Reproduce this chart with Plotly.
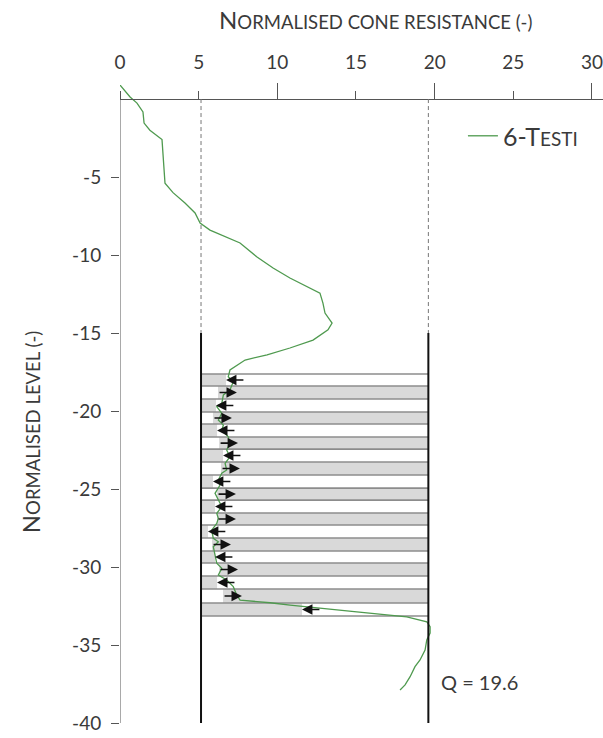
import plotly.graph_objects as go

# ---------------- data ----------------
cone_q = [0.0, 0.64, 1.08, 1.46, 1.53, 1.90, 2.67, 2.73, 2.80, 2.86, 3.37, 4.13, 4.77, 5.09,
          5.72, 7.63, 8.71, 9.73, 10.80, 11.89, 12.71, 12.90, 13.03, 13.48, 13.22, 12.27,
          10.80, 9.35, 7.95, 6.99, 6.88, 7.20, 6.99, 6.57, 6.47, 6.15, 6.47, 6.25, 6.57,
          6.47, 6.88, 6.99, 6.78, 6.99, 6.68, 6.78, 6.47, 6.25, 6.36, 6.04, 6.25, 6.47,
          6.15, 6.25, 6.15, 5.83, 5.93, 6.25, 5.93, 6.04, 6.15, 6.47, 6.25, 6.78, 7.20,
          7.42, 7.63, 9.54, 10.81, 15.05, 18.23, 19.50, 19.71, 19.71, 19.50, 19.39, 19.07,
          18.75, 18.44, 18.12, 17.80]
level = [0.90, 0.13, -0.26, -0.83, -1.54, -2.00, -2.60, -3.70, -4.74, -5.40, -6.00, -6.67,
         -7.30, -7.95, -8.40, -9.23, -10.13, -10.83, -11.47, -12.05, -12.44, -13.08, -13.72,
         -14.36, -14.80, -15.45, -15.96, -16.40, -16.73, -17.37, -17.80, -18.12, -18.65,
         -18.97, -19.51, -19.72, -20.15, -20.58, -20.90, -21.22, -21.65, -22.07, -22.50,
         -22.93, -23.35, -23.78, -23.99, -24.42, -24.74, -25.28, -25.71, -26.13, -26.56,
         -26.88, -27.20, -27.63, -28.16, -28.38, -28.70, -29.34, -29.76, -30.08, -30.51,
         -30.83, -31.26, -31.79, -32.12, -32.29, -32.44, -32.87, -33.19, -33.51, -33.83,
         -34.23, -34.68, -35.32, -35.96, -36.39, -37.03, -37.56, -37.88]

strip_edges = [-17.63, -18.40, -19.23, -20.06, -20.83, -21.67, -22.44, -23.27, -24.10,
               -24.94, -25.71, -26.54, -27.31, -28.14, -28.97, -29.74, -30.58, -31.41,
               -32.31, -33.14]
strip_split = [6.74, 6.23, 6.10, 5.91, 6.17, 6.30, 6.55, 6.42, 5.91, 6.17, 6.04, 6.17,
               5.59, 5.85, 6.04, 6.30, 6.17, 6.55, 11.57]
arrow_len = 1.2

x_ticks = [0, 5, 10, 15, 20, 25, 30]
x_major = [10, 20, 30]
y_ticks = [-5, -10, -15, -20, -25, -30, -35, -40]
y_ticktext = ["-5", "-10", "-15", "-20", "-25", "-30", "-35", "-40"]

left_bound = 5.15
right_bound = 19.6
dash_top = 0
wall_top = -15
wall_bottom = -40
q_text = "Q = 19.6"
series_name = "6-T<span style='font-size:19px'>ESTI</span>"
x_title = "N<span style='font-size:18.5px'>ORMALISED CONE RESISTANCE (-)</span>"
y_title = "N<span style='font-size:18.5px'>ORMALISED LEVEL (-)</span>"

X_RANGE = [0, 30.7]
Y_RANGE = [-40, 0.9]

# ---------------- figure ----------------
FONT = "Lato"
TXT = "#3a3a3a"
AX = "#555555"
fig = go.Figure()

shapes = []
for i in range(len(strip_split)):
    top, bot, s = strip_edges[i], strip_edges[i + 1], strip_split[i]
    if i % 2 == 0:
        gx0, gx1 = left_bound, s
    else:
        gx0, gx1 = s, right_bound
    shapes.append(dict(type="rect", xref="x", yref="y", x0=gx0, x1=gx1, y0=bot, y1=top,
                       fillcolor="#d9d9d9", line=dict(width=0), layer="below"))
for e in strip_edges:
    shapes.append(dict(type="line", xref="x", yref="y", x0=left_bound, x1=right_bound,
                       y0=e, y1=e, line=dict(color="#8c8c8c", width=1.6), layer="below"))
for xb in (left_bound, right_bound):
    shapes.append(dict(type="line", xref="x", yref="y", x0=xb, x1=xb, y0=dash_top, y1=wall_top,
                       line=dict(color="#777777", width=1, dash="4px,3px")))
    shapes.append(dict(type="line", xref="x", yref="y", x0=xb, x1=xb, y0=wall_top, y1=wall_bottom,
                       line=dict(color="#111111", width=2)))
# left y axis line (from level 0 down)
shapes.append(dict(type="line", xref="x", yref="y", x0=0, x1=0, y0=0, y1=wall_bottom,
                   line=dict(color=AX, width=1)))

fig.add_trace(go.Scatter(x=cone_q, y=level, mode="lines", name=series_name,
                         line=dict(color="#4f9a4f", width=1.3), hoverinfo="skip"))
fig.add_trace(go.Scatter(x=[0], y=[-100], xaxis="x2", mode="lines", showlegend=False,
                         hoverinfo="skip"))

annotations = []
for i, s in enumerate(strip_split):
    yc = (strip_edges[i] + strip_edges[i + 1]) / 2
    if i % 2 == 0:
        head, tail = s, s + arrow_len
    else:
        head, tail = s + arrow_len, s
    annotations.append(dict(x=head, y=yc, ax=tail, ay=yc, xref="x", yref="y", axref="x",
                            ayref="y", text="", showarrow=True, arrowhead=2, arrowsize=1.3,
                            arrowwidth=1.6, arrowcolor="#111111", standoff=0))

annotations.append(dict(text=x_title, xref="paper", yref="paper", x=0.528, y=1.102,
                        xanchor="center", yanchor="middle", showarrow=False,
                        font=dict(family=FONT, size=24, color=TXT)))
annotations.append(dict(text=y_title, xref="paper", yref="paper", x=-0.186, y=0.456,
                        xanchor="center", yanchor="middle", textangle=-90, showarrow=False,
                        font=dict(family=FONT, size=24, color=TXT)))
annotations.append(dict(text=q_text, xref="x", yref="y", x=20.3, y=-37.4, xanchor="left",
                        yanchor="middle", showarrow=False,
                        font=dict(family=FONT, size=20, color=TXT)))

pos0 = (0 - Y_RANGE[0]) / (Y_RANGE[1] - Y_RANGE[0])

fig.update_layout(
    width=603, height=738,
    margin=dict(l=120, r=0, t=85, b=15),
    paper_bgcolor="white", plot_bgcolor="white",
    font=dict(family=FONT, color=TXT),
    shapes=shapes, annotations=annotations,
    showlegend=True,
    legend=dict(x=0.71, y=0.92, xanchor="left", yanchor="middle", bgcolor="rgba(0,0,0,0)",
                font=dict(family=FONT, size=25, color=TXT)),
    xaxis=dict(range=X_RANGE, side="top", anchor="free", position=pos0,
               tickvals=x_ticks, ticks="outside", ticklen=8, tickwidth=1, tickcolor=AX,
               showline=True, linecolor=AX, linewidth=1, showgrid=False, zeroline=False,
               ticklabelstandoff=14, ticklabeloverflow="allow",
               tickfont=dict(family=FONT, size=19, color=TXT)),
    xaxis2=dict(range=X_RANGE, side="top", anchor="free", position=pos0, overlaying="x",
                tickvals=x_major, ticks="outside", ticklen=16, tickwidth=1, tickcolor=AX,
                showticklabels=False, showline=False, showgrid=False, zeroline=False),
    yaxis=dict(range=Y_RANGE, tickvals=y_ticks, ticktext=y_ticktext, ticks="outside",
               ticklen=8, tickwidth=1, tickcolor=AX, showline=False, showgrid=False,
               zeroline=False, ticklabelstandoff=6,
               tickfont=dict(family=FONT, size=19, color=TXT)),
)

fig.write_html("out.html", config={"displayModeBar": False},
               post_script="document.body.style.margin='0px';")
